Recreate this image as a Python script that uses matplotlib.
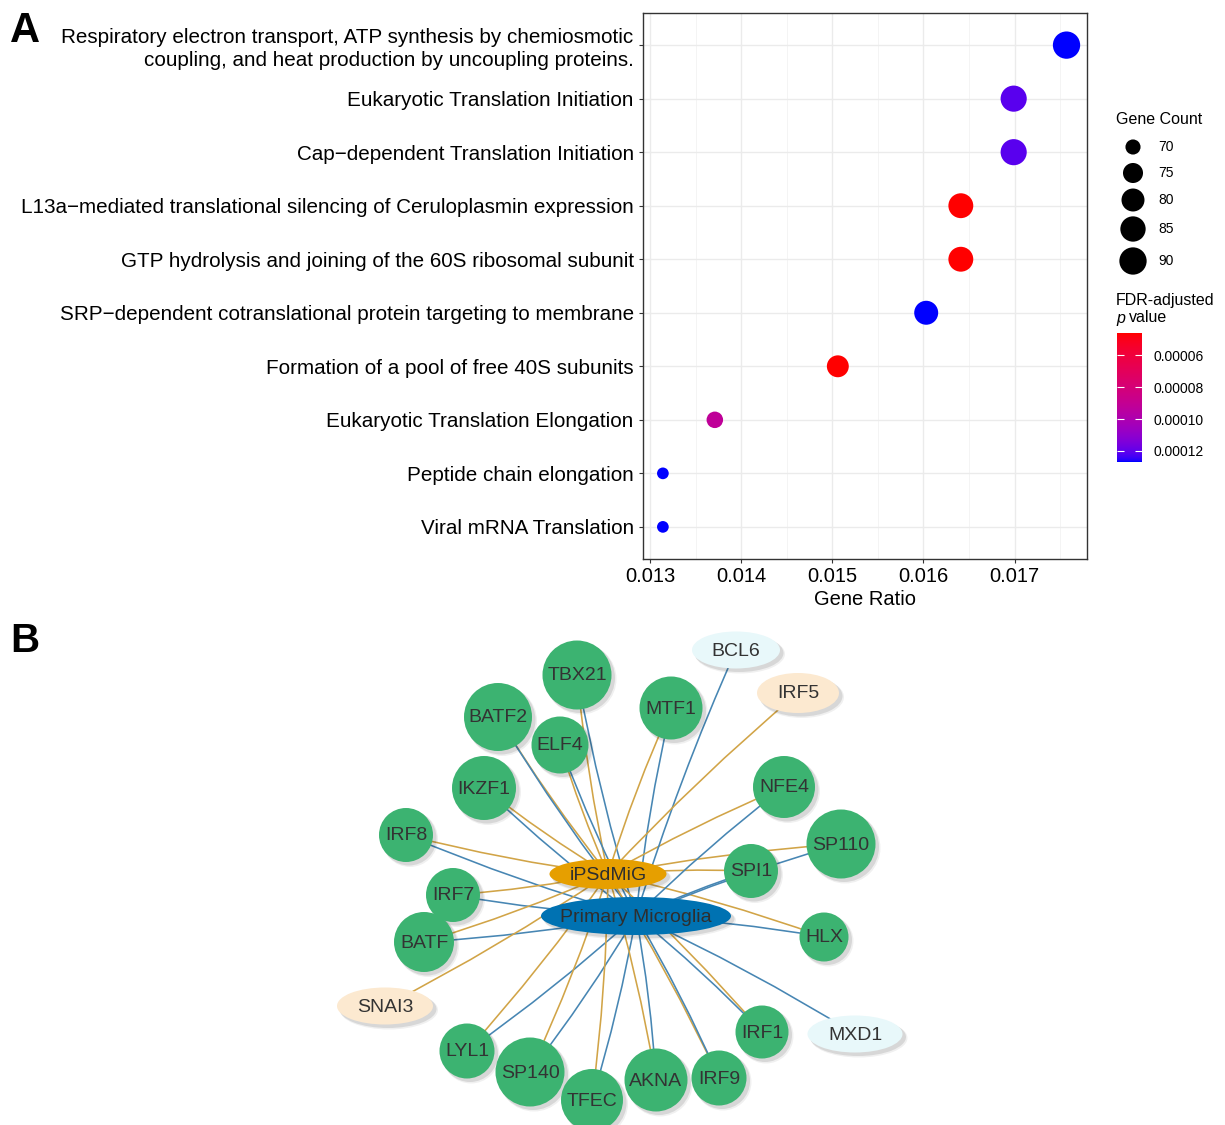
import numpy as np
import matplotlib
matplotlib.use('Agg')
import matplotlib.pyplot as plt
import matplotlib.colors as mcolors
from matplotlib.patches import Ellipse, FancyArrowPatch

plt.rcParams['font.family'] = ['Liberation Sans', 'DejaVu Sans']

#################### panel A: enrichment dot plot ######################
pathways = [
    'Respiratory electron transport, ATP synthesis by chemiosmotic\ncoupling, and heat production by uncoupling proteins.',
    'Eukaryotic Translation Initiation',
    'Cap\u2212dependent Translation Initiation',
    'L13a\u2212mediated translational silencing of Ceruloplasmin expression',
    'GTP hydrolysis and joining of the 60S ribosomal subunit',
    'SRP\u2212dependent cotranslational protein targeting to membrane',
    'Formation of a pool of free 40S subunits',
    'Eukaryotic Translation Elongation',
    'Peptide chain elongation',
    'Viral mRNA Translation',
]
gene_ratio = [0.01757, 0.01699, 0.01699, 0.01641, 0.01641, 0.01603, 0.01506, 0.01371, 0.01314, 0.01314]
gene_count = [90, 87, 87, 84, 84, 82, 78, 71, 69, 69]
p_adj = [1.27e-4, 1.21e-4, 1.21e-4, 4.6e-5, 4.6e-5, 1.27e-4, 4.6e-5, 9.2e-5, 1.27e-4, 1.27e-4]
size_breaks = [70, 75, 80, 85, 90]
p_breaks = [6e-5, 8e-5, 1e-4, 1.2e-4]

#################### panel B: TF network ######################
hub_names = ['iPSdMiG', 'Primary Microglia']
tf_names = ['TBX21', 'BATF2', 'ELF4', 'MTF1', 'IKZF1', 'IRF8', 'IRF7', 'BATF', 'LYL1',
            'SP140', 'TFEC', 'AKNA', 'IRF9', 'IRF1', 'HLX', 'SPI1', 'SP110', 'NFE4',
            'BCL6', 'IRF5', 'SNAI3', 'MXD1']
tf_group = ['both'] * 18 + ['Primary Microglia', 'iPSdMiG', 'iPSdMiG', 'Primary Microglia']

# node layout (pixels) from the network view
hub_x = [608, 636]
hub_y = [874, 916]
hub_w = [117, 190]
hub_h = [30, 38]
node_x = [577, 498, 560, 671, 484, 406, 453, 424, 467, 530, 592, 656, 719, 762, 824, 751, 841, 784,
          736, 798, 385, 855]
node_y = [675, 717, 745, 708, 788, 835, 895, 942, 1051, 1072, 1100, 1080, 1078, 1032, 937, 871, 844, 787,
          650, 693, 1006, 1034]
node_w = [69, 68, 57, 63, 64, 54, 54, 60, 55, 69, 62, 63, 55, 53, 49, 54, 69, 62,
          88, 82, 96, 95]
node_h = [69, 68, 57, 63, 64, 54, 54, 60, 55, 69, 62, 63, 55, 53, 49, 54, 69, 62,
          37, 40, 37, 37]


# ggplot-style red -> blue gradient interpolated in CIELAB
def to_lab(col):
    rgb = np.array(mcolors.to_rgb(col))
    lin = np.where(rgb <= 0.04045, rgb / 12.92, ((rgb + 0.055) / 1.055) ** 2.4)
    M = np.array([[0.4124, 0.3576, 0.1805], [0.2126, 0.7152, 0.0722], [0.0193, 0.1192, 0.9505]])
    xyz = M @ lin / np.array([0.95047, 1.0, 1.08883])
    f = np.where(xyz > 0.008856, np.cbrt(xyz), 7.787 * xyz + 16 / 116)
    return np.array([116 * f[1] - 16, 500 * (f[0] - f[1]), 200 * (f[1] - f[2])])


def from_lab(lab):
    fy = (lab[:, 0] + 16) / 116
    f = np.stack([fy + lab[:, 1] / 500, fy, fy - lab[:, 2] / 200], axis=1)
    xyz = np.where(f ** 3 > 0.008856, f ** 3, (f - 16 / 116) / 7.787) * np.array([0.95047, 1.0, 1.08883])
    Minv = np.array([[3.2406, -1.5372, -0.4986], [-0.9689, 1.8758, 0.0415], [0.0557, -0.2040, 1.0570]])
    lin = np.clip(xyz @ Minv.T, 0, 1)
    rgb = np.where(lin <= 0.0031308, 12.92 * lin, 1.055 * lin ** (1 / 2.4) - 0.055)
    return np.clip(rgb, 0, 1)


tt = np.linspace(0, 1, 256)[:, None]
lab_ramp = (1 - tt) * to_lab('red') + tt * to_lab('blue')
cmap = mcolors.ListedColormap(from_lab(lab_ramp))
norm = mcolors.Normalize(4.6e-5, 1.27e-4)

count_lo, count_hi = min(gene_count), max(gene_count)


def dot_area(c):
    t = np.clip((np.asarray(c, float) - count_lo) / (count_hi - count_lo), 0, 1)
    diam = 11.7 + 15.6 * np.sqrt(t)  # px
    return (diam * 0.72) ** 2


W, H = 1225, 1125
fig = plt.figure(figsize=(W / 100, H / 100), dpi=100)

ax = fig.add_axes([642.7 / W, 1 - 559 / H, 444 / W, 546 / H])
ypos = np.arange(len(pathways), 0, -1)
ax.scatter(gene_ratio, ypos, s=dot_area(gene_count), c=p_adj, cmap=cmap, norm=norm,
           edgecolors='none', zorder=3)
xr = max(gene_ratio) - min(gene_ratio)
ax.set_xlim(min(gene_ratio) - 0.05 * xr, max(gene_ratio) + 0.05 * xr)
ax.set_ylim(0.4, len(pathways) + 0.6)
ax.set_yticks(ypos)
ax.set_yticklabels(pathways, fontsize=14.9, linespacing=1.25)
ax.set_xticks([0.013, 0.014, 0.015, 0.016, 0.017])
ax.set_xticklabels(['0.013', '0.014', '0.015', '0.016', '0.017'], fontsize=14.5)
ax.set_xticks([0.0135, 0.0145, 0.0155, 0.0165, 0.0175], minor=True)
ax.grid(True, which='major', color='#EBEBEB', linewidth=1.0, zorder=0)
ax.grid(True, which='minor', axis='x', color='#F2F2F2', linewidth=0.6, zorder=0)
ax.set_axisbelow(True)
ax.tick_params(axis='both', which='major', length=3, width=0.8, color='#333333', pad=3.5, labelcolor='black')
ax.tick_params(axis='x', which='major', pad=2.5)
ax.tick_params(axis='x', which='minor', length=0)
for sp in ax.spines.values():
    sp.set_color('#333333')
    sp.set_linewidth(1.0)
ax.set_xlabel('Gene Ratio', fontsize=14.5, labelpad=3)

# overlay in pixel units for legends, panel letters and the network
ov = fig.add_axes([0, 0, 1, 1])
ov.set_xlim(0, W)
ov.set_ylim(H, 0)
ov.axis('off')
ov.patch.set_alpha(0)

ov.text(10, 31, 'A', fontsize=30, fontweight='bold', va='center', ha='left')
ov.text(10, 641, 'B', fontsize=29, fontweight='bold', va='center', ha='left')

# size legend
ov.text(1116, 119, 'Gene Count', fontsize=11.5, va='center', ha='left')
key_y = [147, 173, 200, 229, 261]
for b, ky in zip(size_breaks, key_y):
    ov.scatter(1133, ky, s=dot_area(b), c='black', edgecolors='none')
    ov.text(1158, ky, str(b), fontsize=10, va='center', ha='left')

# colour bar
ov.text(1116, 300, 'FDR-adjusted', fontsize=11.5, va='center', ha='left')
ov.text(1116, 318, 'p', fontsize=11.5, style='italic', va='center', ha='left')
ov.text(1129, 318, 'value', fontsize=11.5, va='center', ha='left')
cax = fig.add_axes([1117 / W, 1 - 462 / H, 25 / W, 129 / H])
sm = plt.cm.ScalarMappable(norm=norm, cmap=cmap)
cb = fig.colorbar(sm, cax=cax)
cb.outline.set_visible(False)
cax.invert_yaxis()
cb.set_ticks(p_breaks)
cb.set_ticklabels(['%.5f' % v for v in p_breaks])
cax.tick_params(direction='in', length=5, width=0.8, color='white', left=True, right=True,
                labelsize=10, pad=8)

# network edges
hub_edge_col = {'iPSdMiG': '#D1A447', 'Primary Microglia': '#4786B3'}
for i, name in enumerate(tf_names):
    for k, hub in enumerate(hub_names):
        if tf_group[i] in ('both', hub):
            e = FancyArrowPatch((node_x[i], node_y[i]), (hub_x[k], hub_y[k]), arrowstyle='-',
                                connectionstyle='arc3,rad=0.03', color=hub_edge_col[hub],
                                linewidth=1.15, shrinkA=0, shrinkB=0, zorder=1)
            ov.add_patch(e)


def node(x, y, w, h, fc, label, color='#333333'):
    for off, grow, a in [(4, 2, 0.06), (3, 1, 0.10)]:
        ov.add_patch(Ellipse((x + off, y + off), w + grow, h + grow, facecolor='black',
                             edgecolor='none', alpha=a, zorder=2))
    ov.add_patch(Ellipse((x, y), w, h, facecolor=fc, edgecolor='none', zorder=3))
    ov.text(x, y + 1, label, fontsize=14, color=color, ha='center', va='center', zorder=4)


group_fill = {'both': '#3CB371', 'iPSdMiG': '#FCE9D0', 'Primary Microglia': '#E8F8FA'}
for i, name in enumerate(tf_names):
    node(node_x[i], node_y[i], node_w[i], node_h[i], group_fill[tf_group[i]], name)

hub_fill = ['#E69F00', '#0072B2']
for k, hub in enumerate(hub_names):
    node(hub_x[k], hub_y[k], hub_w[k], hub_h[k], hub_fill[k], hub, color='#2E2E2E')

fig.savefig('out.png', dpi=100)
